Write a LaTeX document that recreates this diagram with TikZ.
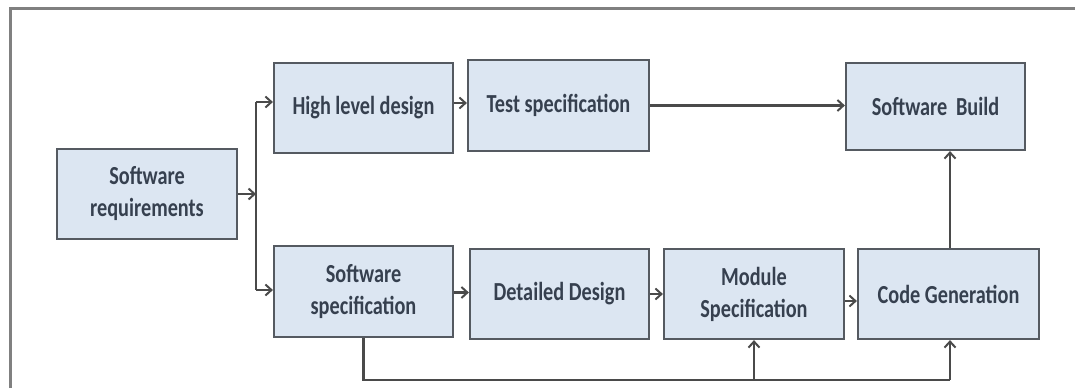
\documentclass[tikz,border=0pt]{standalone}
\usepackage{fontspec}
\setmainfont{Carlito}[FakeStretch=0.78]
\usetikzlibrary{arrows.meta}
\definecolor{boxfill}{HTML}{DCE6F2}
\definecolor{boxline}{HTML}{555A61}
\definecolor{txt}{HTML}{36404F}
\definecolor{frame}{HTML}{808080}
\definecolor{conn}{HTML}{4A4A4A}
\tikzset{
  stagebox/.style={draw=boxline, line width=2.2pt, fill=boxfill, text=txt,
    font=\fontsize{26}{32}\selectfont\bfseries, align=center,
    minimum width=180pt, minimum height=90pt, inner sep=0pt},
  flow/.style={draw=conn, line width=2.2pt, -{Straight Barb[length=6pt,width=11pt,line width=2pt]}},
  plain/.style={draw=conn, line width=2.2pt},
}
\begin{document}
\begin{tikzpicture}[x=1pt,y=-1pt]
\useasboundingbox (0,0) rectangle (1075,388);
\fill[white] (0,0) rectangle (1075,388);
\draw[frame, line width=3pt] (10,388) -- (10,8) -- (1075,8);

\node[stagebox] (sr)  at (147,194)   {Software\\requirements};
\node[stagebox, minimum width=179pt] (hld) at (363.5,108) {High level design};
\node[stagebox, minimum width=181pt, minimum height=91pt] (ts)  at (558.5,105.5) {Test specification};
\node[stagebox, minimum width=179pt, minimum height=87pt] (sb)  at (935.5,106.5) {Software\,\,Build};
\node[stagebox, minimum width=179pt, minimum height=91pt] (ss)  at (363.5,291.5) {Software\\specification};
\node[stagebox, minimum width=179pt] (dd)  at (559.5,294) {Detailed Design};
\node[stagebox] (ms)  at (754,294)   {Module\\Specification};
\node[stagebox, minimum width=181pt] (cg)  at (948.5,294) {Code Generation};

\coordinate (j)  at (256,194);
\coordinate (jt) at (256,102);
\coordinate (jb) at (256,290);
\coordinate (lowL) at (363.5,380);
\coordinate (lowM) at (754,380);
\coordinate (lowR) at (950,380);

\draw[flow] (sr.east) -- (j);
\draw[plain] (jt) -- (jb);
\draw[flow] (jt) -- (jt -| hld.west);
\draw[flow] (jb) -- (jb -| ss.west);

\draw[flow] ([yshift=5pt]hld.east) -- ([yshift=5pt]hld.east -| ts.west);
\draw[flow] (ts.east) -- (ts.east -| sb.west);
\draw[flow] ([yshift=-1pt]ss.east) -- ([yshift=-1pt]ss.east -| dd.west);
\draw[flow] (dd.east) -- (dd.east -| ms.west);
\draw[flow] ([yshift=-7pt]ms.east) -- ([yshift=-7pt]ms.east -| cg.west);
\draw[flow] (cg.north -| lowR) -- (sb.south -| lowR);

\draw[plain] (ss.south) -- (lowL) -- (lowR);
\draw[flow] (lowR) -- (cg.south -| lowR);
\draw[flow] (lowM) -- (ms.south);
\end{tikzpicture}
\end{document}
